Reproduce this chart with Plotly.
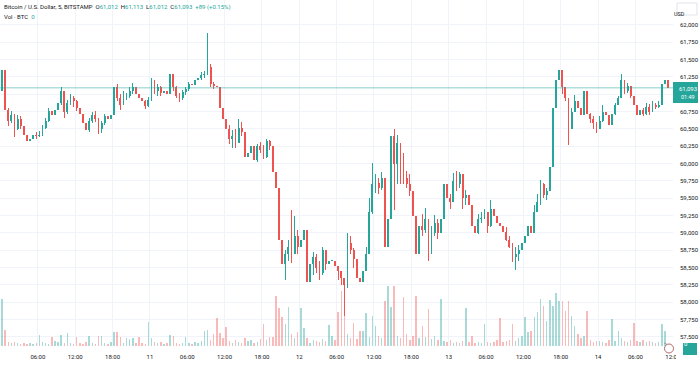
import plotly.graph_objects as go
import pandas as pd

# 30-minute aggregated bars, BTC/USD (Bitstamp), 10–14 Aug
bar_open = pd.date_range('2024-08-10 00:00', periods=215, freq='30min')
first_open = 61050
close = [61350, 60780, 60620, 60700, 60500, 60650, 60550, 60420, 60330, 60350,
         60420, 60400, 60420, 60520, 60620, 60760, 60700, 60780, 60870, 61050,
         60750, 60880, 60950, 60900, 60800, 60720, 60580, 60480, 60620, 60700,
         60640, 60500, 60580, 60680, 60640, 60700, 61100, 60950, 60850, 60950,
         60980, 61050, 61100, 61000, 60950, 60900, 60830, 60920, 61180, 61050,
         61100, 61020, 61050, 61000, 61300, 61100, 60980, 60940, 61030, 61080,
         61150, 61130, 61200, 61230, 61280, 61300, 61400, 61150, 61120, 61100,
         60800, 60650, 60500, 60350, 60400, 60300, 60520, 60450, 60100, 60150,
         60250, 60050, 60250, 60200, 60100, 60330, 60250, 59880, 59650, 58900,
         58550, 58700, 58800, 58700, 58950, 58800, 58900, 59050, 58300, 58550,
         58650, 58500, 58430, 58750, 58550, 58600, 58600, 58520, 58450, 58350,
         58250, 58850, 58750, 58620, 58350, 58300, 58450, 58700, 59300, 59700,
         59720, 59650, 59800, 58800, 59200, 60400, 60000, 60300, 60100, 59800,
         59700, 59600, 59250, 58700, 59100, 59050, 59200, 58800, 59000, 59150,
         59000, 59200, 59700, 59500, 59450, 59750, 59700, 59850, 59500, 59550,
         59400, 59100, 59000, 59200, 59220, 59300, 59100, 59350, 59250, 59150,
         59100, 59020, 58900, 58800, 58650, 58700, 58750, 58850, 58950, 59100,
         59000, 59300, 59450, 59700, 59550, 59600, 59950, 60800, 61200, 61350,
         61100, 60950, 60500, 60750, 60900, 60800, 60700, 61050, 60720, 60650,
         60580, 60500, 60620, 60750, 60700, 60560, 60720, 60850, 60950, 61200,
         61050, 61120, 60980, 60850, 60700, 60780, 60720, 60820, 60750, 60850,
         60820, 60850, 61150, 61200, 61093]
high = [61470, 61250, 60800, 60760, 60720, 60700, 60680, 60560, 60450, 60420,
        60480, 60460, 60470, 60560, 60660, 60800, 60850, 60830, 60900, 61100,
        61000, 60920, 61000, 60980, 60920, 60820, 60740, 60600, 60660, 60740,
        60760, 60660, 60620, 60720, 60700, 60740, 61160, 61150, 61000, 61050,
        61020, 61100, 61160, 61100, 61050, 60980, 60920, 60960, 61230, 61200,
        61150, 61120, 61100, 61080, 61380, 61300, 61120, 61020, 61060, 61100,
        61180, 61200, 61240, 61260, 61320, 61340, 61880, 61440, 61180, 61160,
        61100, 60820, 60760, 60560, 60480, 60500, 60650, 60600, 60750, 60340,
        60340, 60300, 60290, 60310, 60270, 60360, 60340, 60250, 59900, 59650,
        58950, 58760, 58900, 59330, 59240, 59050, 59030, 59090, 59000, 58700,
        58720, 58700, 58600, 58800, 58760, 58680, 58700, 58620, 58520, 58450,
        58350, 59000, 58950, 58780, 58560, 58420, 58520, 58800, 59500, 60010,
        59850, 59800, 59880, 59820, 59450, 60700, 60500, 60420, 60300, 60150,
        59900, 59850, 59600, 59300, 59250, 59280, 59360, 59200, 59100, 59260,
        59200, 59300, 59740, 59700, 59560, 59860, 59900, 59880, 59850, 59620,
        59540, 59400, 59100, 59280, 59300, 59350, 59300, 59480, 59380, 59280,
        59200, 59150, 59080, 58950, 58850, 58800, 58820, 58950, 59050, 59200,
        59230, 59400, 59560, 59760, 59720, 59650, 60000, 60850, 61450, 61590,
        61250, 61100, 60950, 60800, 60990, 60900, 60820, 61120, 61050, 60730,
        60680, 60600, 60680, 60850, 60800, 60700, 60760, 60880, 60980, 61300,
        61200, 61160, 61120, 61000, 60860, 60820, 60800, 60870, 60860, 60900,
        60880, 60900, 61200, 61330, 61220]
low = [60950, 60720, 60550, 60580, 60380, 60480, 60500, 60380, 60280, 60270,
       60320, 60360, 60380, 60400, 60500, 60600, 60650, 60650, 60750, 60850,
       60660, 60720, 60850, 60820, 60760, 60650, 60500, 60430, 60450, 60580,
       60600, 60430, 60440, 60560, 60590, 60600, 60700, 60900, 60780, 60880,
       60920, 60950, 61000, 60960, 60900, 60850, 60790, 60820, 60900, 61000,
       60980, 60980, 60970, 60960, 60990, 61050, 60940, 60890, 60920, 60990,
       61050, 61100, 61120, 61150, 61200, 61230, 61280, 61100, 61080, 61020,
       60700, 60560, 60300, 60290, 60230, 60220, 60350, 60400, 60050, 59960,
       60100, 60000, 60030, 60150, 60060, 60080, 60200, 59850, 59570, 58800,
       58460, 58320, 58600, 58560, 58800, 58700, 58650, 58800, 58130, 58330,
       58400, 58420, 58320, 58400, 58460, 58400, 58500, 58420, 58320, 58250,
       57800, 58200, 58700, 58500, 58290, 58180, 58200, 58450, 58700, 59280,
       59580, 59560, 59620, 58400, 57600, 59200, 59330, 59700, 59700, 59700,
       59650, 59540, 59180, 58500, 58900, 58950, 59000, 58600, 58700, 58950,
       58920, 59000, 59150, 59420, 59350, 59580, 59600, 59650, 59350, 59400,
       59330, 58990, 58870, 58980, 59150, 59200, 59000, 59080, 59150, 59100,
       59020, 58960, 58880, 58780, 58580, 58470, 58600, 58700, 58780, 58850,
       58900, 59000, 59350, 59400, 59500, 59480, 59550, 59900, 60900, 61100,
       61000, 60900, 60270, 60600, 60760, 60680, 60620, 60700, 60650, 60590,
       60500, 60440, 60500, 60600, 60640, 60510, 60560, 60700, 60840, 60950,
       61000, 61020, 60940, 60820, 60700, 60700, 60680, 60700, 60700, 60740,
       60790, 60800, 60850, 61100, 60930]
volume = [47, 16, 4, 3, 4, 3, 2, 3, 2, 3,
          2, 3, 11, 4, 3, 2, 9, 5, 4, 11,
          3, 13, 3, 2, 9, 3, 2, 4, 10, 3,
          2, 10, 10, 3, 2, 4, 14, 14, 9, 3,
          8, 7, 8, 3, 9, 3, 2, 24, 8, 4,
          3, 4, 2, 3, 11, 10, 3, 2, 3, 9,
          3, 2, 4, 3, 5, 15, 16, 6, 12, 28,
          13, 8, 19, 5, 3, 6, 4, 3, 8, 5,
          6, 3, 4, 7, 22, 6, 9, 9, 50, 38,
          29, 22, 39, 12, 8, 14, 38, 18, 8, 3,
          6, 5, 4, 7, 5, 21, 10, 6, 34, 55,
          40, 12, 8, 23, 7, 15, 15, 33, 9, 30,
          20, 10, 8, 45, 60, 39, 60, 10, 8, 49,
          12, 6, 10, 50, 8, 20, 9, 37, 7, 10,
          6, 47, 5, 4, 6, 3, 4, 3, 5, 38,
          4, 10, 3, 4, 3, 22, 4, 3, 4, 6,
          28, 4, 5, 6, 22, 5, 8, 10, 29, 14,
          15, 29, 34, 47, 40, 25, 46, 40, 53, 45,
          45, 35, 45, 30, 20, 12, 8, 10, 35, 6,
          4, 5, 5, 4, 3, 6, 27, 5, 15, 8,
          5, 4, 6, 23, 5, 4, 6, 4, 5, 4,
          3, 4, 22, 15, 2]
last_price = 61093
price_ticks = [57500, 57750, 58000, 58250, 58500, 58750, 59000, 59250, 59500,
               59750, 60000, 60250, 60500, 60750, 61000, 61250, 61500, 61750, 62000]
time_ticks = pd.date_range('2024-08-10 00:00', '2024-08-14 12:00', freq='6h')

assert len(close) == len(high) == len(low) == len(volume) == len(bar_open)

UP = '#26a69a'
DOWN = '#ef5350'
TXT = '#131722'
GRID = '#f0f3fa'

opens = [first_open] + close[:-1]
highs = [max(h, o, c) for h, o, c in zip(high, opens, close)]
lows = [min(l, o, c) for l, o, c in zip(low, opens, close)]
xs = bar_open + pd.Timedelta(minutes=15)
is_up = [c >= o for o, c in zip(opens, close)]
candle_colors = [UP if u else DOWN for u in is_up]
vol_colors = ['rgba(38,166,154,0.40)' if u else 'rgba(239,83,80,0.40)' for u in is_up]
body_base = [min(o, c) for o, c in zip(opens, close)]
body_len = [max(abs(c - o), 10) for o, c in zip(opens, close)]
wick_len = [h - l for h, l in zip(highs, lows)]

MS_MIN = 60 * 1000
fig = go.Figure()
fig.add_trace(go.Bar(x=xs, y=volume, yaxis='y2', marker_color=vol_colors,
                     marker_line_width=0, width=14 * MS_MIN, hoverinfo='skip'))
fig.add_trace(go.Bar(x=xs, y=wick_len, base=lows, marker_color=candle_colors,
                     marker_line_width=0, width=6 * MS_MIN, hoverinfo='skip'))
fig.add_trace(go.Bar(x=xs, y=body_len, base=body_base, marker_color=candle_colors,
                     marker_line_width=0, width=18 * MS_MIN, hoverinfo='skip'))

W, H = 700, 367
L, R, T, B = 0, 27, 0, 21
pw, ph = W - L - R, H - T - B


def px(xp):
    return (xp - L) / pw


def py(yp):
    return 1 - (yp - T) / ph


ticktext = [t.strftime('%d').lstrip('0') if t.hour == 0 else t.strftime('%H:%M')
            for t in time_ticks]
# the 61,000 label sits under the last-price marker in the reference
price_text = ['' if v == 61000 else f'{v:,}' for v in price_ticks]

fig.update_layout(
    width=W, height=H, margin=dict(l=L, r=R, t=T, b=B, autoexpand=False),
    paper_bgcolor='white', plot_bgcolor='white', showlegend=False,
    font=dict(family='Roboto', color=TXT, size=6),
    barmode='overlay', bargap=0, hovermode=False,
    xaxis=dict(type='date', range=['2024-08-09 23:55:11', '2024-08-14 12:02:15'],
               rangeslider=dict(visible=False), tickvals=list(time_ticks),
               ticktext=ticktext, showgrid=True, gridcolor=GRID, gridwidth=1,
               zeroline=False, ticks='', ticklabelstandoff=6, automargin=False,
               tickfont=dict(size=6, color=TXT), fixedrange=True),
    yaxis=dict(side='right', range=[57370, 62360], tickvals=price_ticks,
               ticktext=price_text, showgrid=True, fixedrange=True,
               gridcolor=GRID, zeroline=False, ticks='', ticklabelstandoff=6,
               automargin=False, tickfont=dict(size=6, color=TXT)),
    yaxis2=dict(overlaying='y', range=[0, ph], visible=False, fixedrange=True),
)

shapes = [
    dict(type='line', xref='paper', x0=0, x1=1, yref='y', y0=last_price, y1=last_price,
         line=dict(color='rgba(38,166,154,0.55)', width=1), layer='above'),
    # cover for the clipped last time label
    dict(type='rect', xref='paper', x0=px(676), x1=px(700), yref='paper',
         y0=py(367), y1=py(347), fillcolor='white', line_width=0, layer='above'),
    dict(type='rect', xref='paper', x0=px(673), x1=px(698), yref='paper',
         y0=py(103), y1=py(82), fillcolor=UP, line_width=0, layer='above'),
    dict(type='rect', xref='paper', x0=px(677), x1=px(697), yref='paper',
         y0=py(15), y1=py(3), fillcolor='white',
         line=dict(color='#e0e3eb', width=1), layer='above'),
    dict(type='rect', xref='paper', x0=px(683), x1=px(697), yref='paper',
         y0=py(355), y1=py(343), fillcolor=UP, line_width=0, layer='above'),
    dict(type='circle', xref='paper', x0=px(664.5), x1=px(673.5), yref='paper',
         y0=py(353), y1=py(344), fillcolor='white',
         line=dict(color='#b06a6a', width=1), layer='above'),
]
fig.update_layout(shapes=shapes)

sp = '\u00a0'
hdr = (f'Bitcoin / U.S. Dollar, 5, BITSTAMP{sp}{sp}'
       f'O<span style="color:{UP}">61,012</span>{sp}{sp}'
       f'H<span style="color:{UP}">61,113</span>{sp}{sp}'
       f'L<span style="color:{UP}">61,012</span>{sp}{sp}'
       f'C<span style="color:{UP}">61,093</span>{sp}{sp}'
       f'<span style="color:{UP}">+89 (+0.15%)</span>')
ann = [
    dict(text=hdr, x=px(2), y=py(6.5), xref='paper', yref='paper', xanchor='left',
         yanchor='middle', showarrow=False, font=dict(size=6, color=TXT)),
    dict(text=f'Vol · BTC{sp}{sp}<span style="color:{UP}">0</span>', x=px(2), y=py(16.5),
         xref='paper', yref='paper', xanchor='left', yanchor='middle',
         showarrow=False, font=dict(size=6, color=TXT)),
    dict(text='USD', x=px(687), y=py(9), xref='paper', yref='paper', showarrow=False,
         font=dict(size=5.5, color=TXT)),
    dict(text=f'{last_price:,}', x=px(677), y=py(88), xref='paper', yref='paper',
         xanchor='left', yanchor='middle', showarrow=False,
         font=dict(size=6, color='white')),
    dict(text='01:49', x=px(679), y=py(97), xref='paper', yref='paper',
         xanchor='left', yanchor='middle', showarrow=False,
         font=dict(size=5.5, color='white')),
    dict(text='0', x=px(690), y=py(349), xref='paper', yref='paper', showarrow=False,
         font=dict(size=6, color='white')),
    dict(text='ϟ', x=px(669), y=py(348.5), xref='paper', yref='paper', showarrow=False,
         font=dict(size=6, color='#b06a6a')),
]
fig.update_layout(annotations=ann)

fig.write_html('out.html', config={'displayModeBar': False, 'staticPlot': True},
               post_script="document.body.style.margin='0';"
               "document.body.style.overflow='hidden';")
